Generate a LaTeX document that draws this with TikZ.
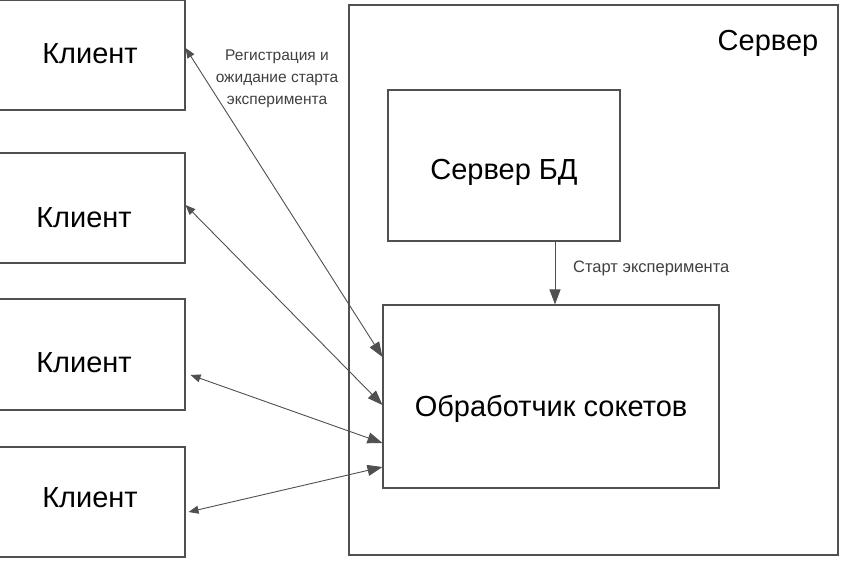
\documentclass[tikz,border=0pt]{standalone}
\usepackage{fontspec}
\setmainfont{Liberation Sans}
\usetikzlibrary{arrows.meta,calc}
\definecolor{edge}{HTML}{505050}
\definecolor{lbl}{HTML}{404040}
\newcommand{\mvtext}[2]{\raisebox{#1}[\height][\depth]{#2}}
\begin{document}
\begin{tikzpicture}[x=1pt,y=-1pt,
  box/.style={draw=edge,line width=1.1pt,rectangle,inner sep=0pt,font=\fontsize{29}{34}\selectfont,text=black},
  small/.style={font=\fontsize{15.5}{22}\selectfont,text=lbl,inner sep=0pt},
  conn/.style={draw=edge,line width=0.9pt,{Triangle[length=10pt,width=8pt]}-{Triangle[length=15pt,width=11pt]}},
  oneway/.style={draw=edge,line width=0.9pt,-{Triangle[length=15pt,width=11pt]}}]
\useasboundingbox (0,0) rectangle (851,567);
\fill[white] (0,0) rectangle (851,567);
\node[box,minimum width=190,minimum height=110] (c1) at (90,55) {\mvtext{1pt}{Клиент}};
\node[box,minimum width=190,minimum height=110] (c2) at (90,208) {\hspace*{-12pt}\mvtext{-10pt}{Клиент}};
\node[box,minimum width=190,minimum height=111] (c3) at (90,354.5) {\hspace*{-12pt}\mvtext{-8pt}{Клиент}};
\node[box,minimum width=190,minimum height=110] (c4) at (90,502) {\mvtext{4pt}{Клиент}};
\node[box,minimum width=489,minimum height=550] (srv) at (593.5,280) {};
\node[font=\fontsize{29}{34}\selectfont,inner sep=0pt] (srvlbl) at (768,43) {Сервер};
\node[box,minimum width=232,minimum height=151] (db) at (504,165.5) {\mvtext{-7pt}{Сервер БД}};
\node[box,minimum width=336,minimum height=183] (h) at (551,396.5) {\mvtext{-12pt}{Обработчик сокетов}};
\node[small,align=center] (reglbl) at (277,79) {Регистрация и\\ожидание старта\\эксперимента};
\node[small,anchor=west,font=\fontsize{16.5}{22}\selectfont] (startlbl) at (573,268) {Старт эксперимента};
\draw[conn] ([yshift=7]c1.east) -- ([yshift=39.5]h.west);
\draw[conn] ([yshift=3]c2.east) -- ([yshift=-8.5]h.west);
\draw[conn] ([xshift=5,yshift=-20.5]c3.east) -- ([yshift=-46.5]h.west);
\draw[conn] ([xshift=3,yshift=-10]c4.east) -- ([yshift=-70.5]h.west);
\draw[oneway] ([xshift=51]db.south) -- ([xshift=51]db.south |- h.north);
\end{tikzpicture}
\end{document}
